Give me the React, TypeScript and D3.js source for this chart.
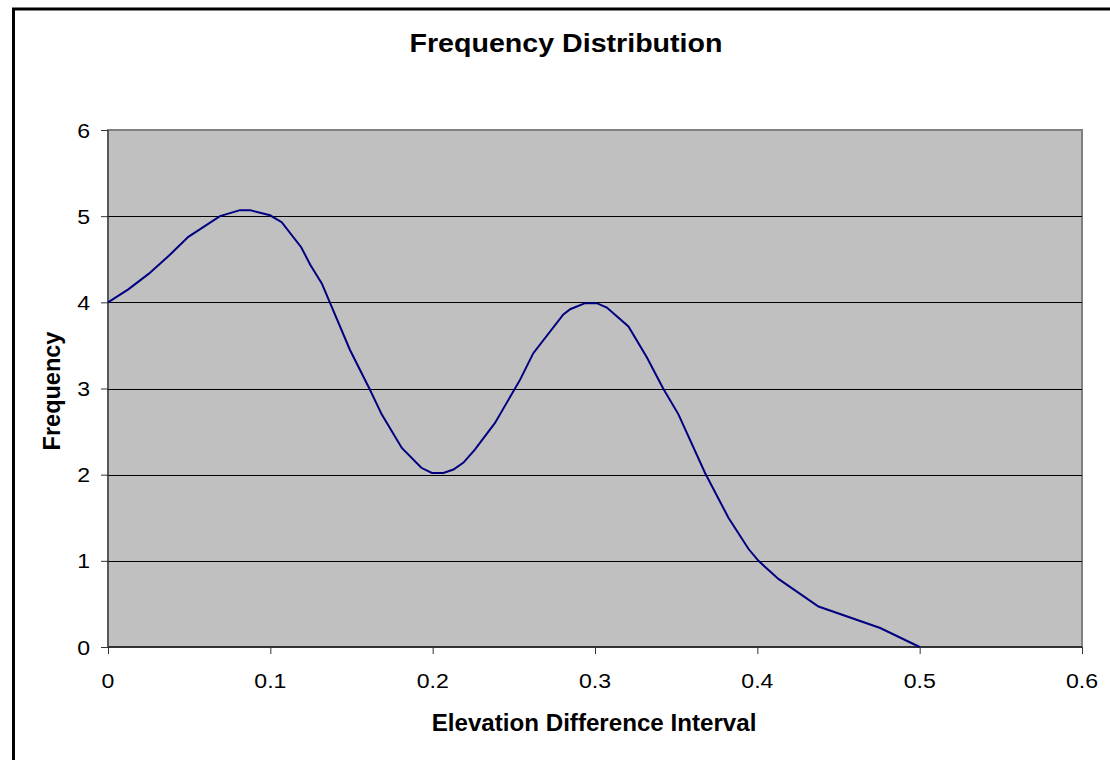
import { useEffect, useRef } from "react";
import * as d3 from "d3";

const intervals = [
  0, 0.0125, 0.025, 0.0375, 0.0495, 0.069, 0.0813, 0.0875, 0.0998, 0.107,
  0.119, 0.1245, 0.1317, 0.149, 0.161, 0.1686, 0.181, 0.193, 0.1995, 0.2066,
  0.2128, 0.219, 0.226, 0.2384, 0.2538, 0.262, 0.2805, 0.2847, 0.2939,
  0.3011, 0.3073, 0.3206, 0.332, 0.342, 0.3514, 0.3678, 0.3822, 0.3945,
  0.4007, 0.413, 0.4377, 0.4757, 0.5,
];
const frequencies = [
  4.0, 4.15, 4.33, 4.54, 4.76, 5.0, 5.07, 5.07, 5.01, 4.93,
  4.64, 4.44, 4.22, 3.45, 3.0, 2.7, 2.31, 2.08, 2.02, 2.02,
  2.06, 2.14, 2.29, 2.6, 3.1, 3.41, 3.86, 3.92, 3.99,
  3.99, 3.94, 3.72, 3.36, 3.0, 2.7, 2.02, 1.5, 1.14,
  1.0, 0.79, 0.47, 0.22, 0,
];
const xTicks = [0, 0.1, 0.2, 0.3, 0.4, 0.5, 0.6];
const yTicks = [0, 1, 2, 3, 4, 5, 6];

const W = 1110;
const H = 760;
const plot = { left: 108, top: 130, right: 1082, bottom: 647 };
const FONT = "'Liberation Sans', Arial, sans-serif";
const SX = 1.1; // reference text is slightly stretched horizontally

export default function App() {
  const svgRef = useRef<SVGSVGElement>(null);

  useEffect(() => {
    if (!svgRef.current) return;
    const svg = d3.select(svgRef.current);
    svg.selectAll("*").remove();

    const x = d3.scaleLinear().domain([0, 0.6]).range([plot.left, plot.right]);
    const y = d3.scaleLinear().domain([0, 6]).range([plot.bottom, plot.top]);

    // chart frame
    svg
      .append("rect")
      .attr("x", 13.5)
      .attr("y", 9)
      .attr("width", W + 20)
      .attr("height", H + 20)
      .attr("fill", "white")
      .attr("stroke", "black")
      .attr("stroke-width", 3);

    svg
      .append("text")
      .attr("transform", `translate(566,52) scale(${SX},1)`)
      .attr("text-anchor", "middle")
      .attr("font-family", FONT)
      .attr("font-size", 26)
      .attr("font-weight", "bold")
      .text("Frequency Distribution");

    // plot area
    svg
      .append("rect")
      .attr("x", plot.left)
      .attr("y", plot.top)
      .attr("width", plot.right - plot.left)
      .attr("height", plot.bottom - plot.top)
      .attr("fill", "#c0c0c0")
      .attr("stroke", "#808080")
      .attr("stroke-width", 2);

    // gridlines
    svg
      .append("g")
      .selectAll("line")
      .data(yTicks.filter((t) => t > 0 && t < 6))
      .join("line")
      .attr("x1", plot.left)
      .attr("x2", plot.right)
      .attr("y1", (d) => Math.round(y(d)) + 0.5)
      .attr("y2", (d) => Math.round(y(d)) + 0.5)
      .attr("stroke", "black")
      .attr("stroke-width", 1);

    // y axis (tick marks only, labels drawn below)
    const yAxis = svg
      .append("g")
      .attr("transform", `translate(${plot.left},0)`)
      .call(d3.axisLeft(y).tickValues(yTicks).tickSize(7).tickFormat(() => ""));
    yAxis
      .select(".domain")
      .attr("stroke", "#333")
      .attr("d", `M0,${plot.top}V${plot.bottom}`);
    yAxis.selectAll(".tick line").attr("stroke", "#333");

    svg
      .append("g")
      .selectAll("text")
      .data(yTicks)
      .join("text")
      .attr("transform", (d) => `translate(90,${y(d)}) scale(${SX},1)`)
      .attr("dy", "0.36em")
      .attr("text-anchor", "end")
      .attr("font-family", FONT)
      .attr("font-size", 21)
      .text((d) => String(d));

    // x axis
    const xAxis = svg
      .append("g")
      .attr("transform", `translate(0,${plot.bottom})`)
      .call(d3.axisBottom(x).tickValues(xTicks).tickSize(7).tickFormat(() => ""));
    xAxis
      .select(".domain")
      .attr("stroke", "#333")
      .attr("stroke-width", 2)
      .attr("d", `M${plot.left},0H${plot.right}`);
    xAxis.selectAll(".tick line").attr("stroke", "#333");

    svg
      .append("g")
      .selectAll("text")
      .data(xTicks)
      .join("text")
      .attr("transform", (d) => `translate(${x(d)},688) scale(${SX},1)`)
      .attr("text-anchor", "middle")
      .attr("font-family", FONT)
      .attr("font-size", 21)
      .text((d) => String(d));

    // series
    const pts = intervals.map((v, i) => [v, frequencies[i]] as [number, number]);
    svg
      .append("path")
      .datum(pts)
      .attr("fill", "none")
      .attr("stroke", "#000080")
      .attr("stroke-width", 2)
      .attr(
        "d",
        d3
          .line<[number, number]>()
          .x((d) => x(d[0]))
          .y((d) => y(d[1])),
      );

    // axis titles
    svg
      .append("text")
      .attr("transform", `translate(594,731) scale(1.05,1)`)
      .attr("text-anchor", "middle")
      .attr("font-family", FONT)
      .attr("font-size", 23)
      .attr("font-weight", "bold")
      .text("Elevation Difference Interval");

    svg
      .append("text")
      .attr("transform", `translate(60,391) rotate(-90)`)
      .attr("text-anchor", "middle")
      .attr("font-family", FONT)
      .attr("font-size", 23.5)
      .attr("font-weight", "bold")
      .text("Frequency");
  }, []);

  return (
    <svg
      ref={svgRef}
      width={W}
      height={H}
      style={{ position: "absolute", left: 0, top: 0 }}
    />
  );
}
